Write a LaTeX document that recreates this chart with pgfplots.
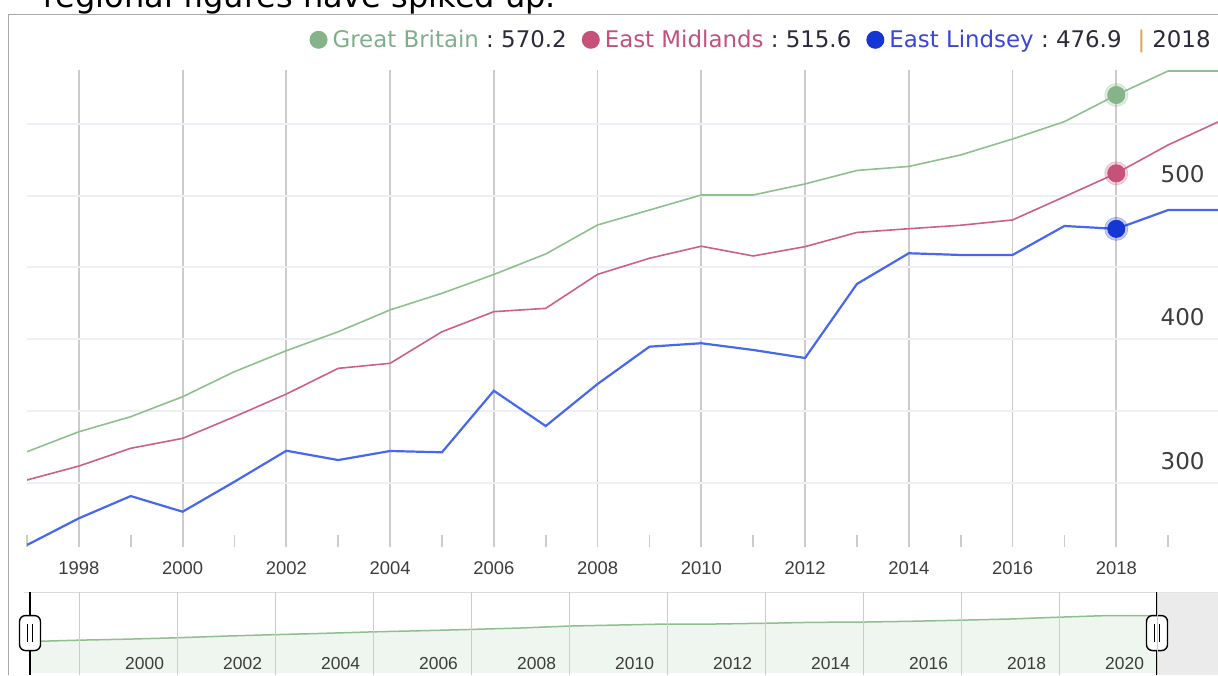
\documentclass[border=0pt]{standalone}
\usepackage{fontspec}
\setmainfont{DejaVu Sans}
\newfontfamily\arialf{Liberation Sans}
\usepackage{pgfplots}
\pgfplotsset{compat=1.18}
\definecolor{bordergray}{HTML}{A8A8A8}
\definecolor{vgrid}{HTML}{CCCCCC}
\definecolor{hgrid}{HTML}{EEEEF6}
\definecolor{gbline}{HTML}{8FBF8F}
\definecolor{gbdot}{HTML}{86B38A}
\definecolor{gbtext}{HTML}{7FAF8A}
\definecolor{emline}{HTML}{CC6088}
\definecolor{emdot}{HTML}{C65279}
\definecolor{emtext}{HTML}{C4507D}
\definecolor{elline}{HTML}{4767EE}
\definecolor{eldot}{HTML}{1636D4}
\definecolor{eltext}{HTML}{3B45D8}
\definecolor{valtext}{HTML}{2A2A3A}
\definecolor{pipecol}{HTML}{E8A33D}
\definecolor{axlab}{HTML}{3C3C3C}
\definecolor{navgrid}{HTML}{CCCCCC}
\definecolor{navfill}{HTML}{EFF5EF}
\definecolor{navshade}{HTML}{E6E6E6}
\newcommand{\ldot}[1]{\tikz[baseline={(0,-4.1pt)}]\fill[#1] (0,0) circle (4.5pt);}
\begin{document}
\begin{tikzpicture}[x=0.5pt,y=0.5pt]
% title (cut off by the screenshot)
\node[anchor=base west, inner sep=0pt, font=\fontsize{16}{16}\selectfont] at (43,667) {regional figures have spiked up.};
% chart border
\draw[color=bordergray, line width=0.8pt] (8.5,0) -- (8.5,660.5) -- (1218,660.5);
% legend
\node[anchor=base east, inner sep=0pt, font=\fontsize{11.45}{11.45}\selectfont] at (1211,627)
 {\ldot{gbdot}\hspace{2.5pt}\textcolor{gbtext}{Great Britain}\textcolor{valtext}{\ :\ 570.2}\hspace{7.5pt}%
  \ldot{emdot}\hspace{2.5pt}\textcolor{emtext}{East Midlands}\textcolor{valtext}{\ :\ 515.6}\hspace{7.5pt}%
  \ldot{eldot}\hspace{2.5pt}\textcolor{eltext}{East Lindsey}\textcolor{valtext}{\ :\ 476.9}\hspace{8pt}%
  \textcolor{pipecol}{|}\hspace{3.5pt}\textcolor{valtext}{2018}};
% main chart
\begin{axis}[
  at={(13.5pt,64pt)}, anchor=south west,
  width=596.5pt, height=238.5pt, scale only axis,
  xmin=1997, xmax=2020, ymin=255.2, ymax=587.6,
  axis line style={draw=none},
  xtick={1998,2000,...,2018},
  xticklabels={1998,2000,2002,2004,2006,2008,2010,2012,2014,2016,2018},
  minor xtick={1997,1999,...,2019},
  xtick pos=left,
  ytick={300,350,...,550},
  yticklabels={300,,400,,500,},
  ytick pos=right, yticklabel pos=right,
  major tick length=0pt, minor tick length=6pt, tick align=inside,
  tick style={color=vgrid, line width=0.9pt},
  xmajorgrids=true, ymajorgrids=true,
  major x grid style={color=vgrid, line width=0.9pt},
  major y grid style={color=hgrid, line width=1pt},
  xticklabel style={anchor=base, yshift=-13.5pt, text=axlab, font=\arialf\fontsize{9.2}{9.2}\selectfont},
  yticklabel style={anchor=east, inner sep=0pt, xshift=-7.5pt, yshift=11pt, text=axlab, font=\fontsize{11.5}{11.5}\selectfont},
]
\addplot[gbline, line width=0.8pt, mark=none] coordinates {
(1997,321.6) (1998,335.5) (1999,346.0) (2000,359.9) (2001,377.4) (2002,392.0)
(2003,405.2) (2004,420.4) (2005,432.0) (2006,445.1) (2007,459.4) (2008,479.6)
(2009,490.0) (2010,500.5) (2011,500.5) (2012,508.2) (2013,517.6) (2014,520.4)
(2015,528.4) (2016,539.5) (2017,551.6) (2018,570.2) (2019,586.9) (2020,586.9)};
\addplot[emline, line width=0.8pt, mark=none] coordinates {
(1997,301.9) (1998,311.6) (1999,324.0) (2000,330.9) (2001,346.0) (2002,361.8)
(2003,379.7) (2004,383.2) (2005,405.2) (2006,419.2) (2007,421.5) (2008,445.2)
(2009,456.4) (2010,464.8) (2011,458.0) (2012,464.5) (2013,474.4) (2014,477.0)
(2015,479.4) (2016,483.1) (2017,499.3) (2018,515.6) (2019,535.4) (2020,552.0)};
\addplot[elline, line width=1.1pt, mark=none] coordinates {
(1997,256.6) (1998,275.2) (1999,290.7) (2000,279.8) (2001,300.7) (2002,322.3)
(2003,315.8) (2004,322.1) (2005,321.2) (2006,364.1) (2007,339.5) (2008,368.8)
(2009,394.8) (2010,397.2) (2011,392.5) (2012,386.9) (2013,438.5) (2014,459.9)
(2015,458.7) (2016,458.7) (2017,478.9) (2018,476.9) (2019,490.0) (2020,490.0)};
% highlighted 2018 values (soft halo + dot)
\addplot[only marks, mark=*, gbdot, opacity=0.25, mark size=5.8pt] coordinates {(2018,570.2)};
\addplot[only marks, mark=*, gbdot, mark size=4.3pt] coordinates {(2018,570.2)};
\addplot[only marks, mark=*, emdot, opacity=0.25, mark size=5.8pt] coordinates {(2018,515.6)};
\addplot[only marks, mark=*, emdot, mark size=4.3pt] coordinates {(2018,515.6)};
\addplot[only marks, mark=*, eldot, opacity=0.25, mark size=5.8pt] coordinates {(2018,476.9)};
\addplot[only marks, mark=*, eldot, mark size=4.3pt] coordinates {(2018,476.9)};
\end{axis}
% navigator
\begin{axis}[
  at={(15pt,0pt)}, anchor=south west,
  width=594pt, height=41.5pt, scale only axis,
  xmin=1997, xmax=2021.245, ymin=-20, ymax=827,
  axis line style={draw=none},
  axis on top,
  xtick={1998,2000,...,2020},
  xticklabels={,2000,2002,2004,2006,2008,2010,2012,2014,2016,2018,2020},
  ytick=\empty,
  xtick pos=left,
  major tick length=0pt,
  xmajorgrids=true,
  major x grid style={color=navgrid, line width=0.5pt},
  xticklabel style={anchor=base east, xshift=-3pt, yshift=2.75pt, text=axlab, font=\arialf\fontsize{8.7}{8.7}\selectfont},
  clip=false,
]
\addplot[draw=none, fill=navfill, mark=none] coordinates {
(1997,321.6) (1998,335.5) (1999,346.0) (2000,359.9) (2001,377.4) (2002,392.0)
(2003,405.2) (2004,420.4) (2005,432.0) (2006,445.1) (2007,459.4) (2008,479.6)
(2009,490.0) (2010,500.5) (2011,500.5) (2012,508.2) (2013,517.6) (2014,520.4)
(2015,528.4) (2016,539.5) (2017,551.6) (2018,570.2) (2019,586.9) (2020,586.9)} \closedcycle;
\addplot[gbline, line width=0.75pt, mark=none] coordinates {
(1997,321.6) (1998,335.5) (1999,346.0) (2000,359.9) (2001,377.4) (2002,392.0)
(2003,405.2) (2004,420.4) (2005,432.0) (2006,445.1) (2007,459.4) (2008,479.6)
(2009,490.0) (2010,500.5) (2011,500.5) (2012,508.2) (2013,517.6) (2014,520.4)
(2015,528.4) (2016,539.5) (2017,551.6) (2018,570.2) (2019,586.9) (2020,586.9)};
\draw[color=navgrid!70, line width=0.5pt] (rel axis cs:-0.005,1) -- (rel axis cs:1,1);
\fill[navshade, opacity=0.8] (axis cs:2020,-20) rectangle (axis cs:2021.245,827);
\draw[black, line width=0.7pt] (axis cs:1997,-20) -- (axis cs:1997,827);
\draw[black, line width=0.7pt] (axis cs:2020,-20) -- (axis cs:2020,827);
\node[draw=black, fill=white, rounded corners=3pt, line width=0.7pt, minimum width=10.5pt, minimum height=17.5pt, inner sep=0pt] (h1) at (axis cs:1997,408) {};
\node[draw=black, fill=white, rounded corners=3pt, line width=0.7pt, minimum width=10.5pt, minimum height=17.5pt, inner sep=0pt] (h2) at (axis cs:2020,408) {};
\draw[black, line width=0.65pt] ([xshift=-1.25pt,yshift=-4.5pt]h1.center) -- ([xshift=-1.25pt,yshift=4.5pt]h1.center);
\draw[black, line width=0.65pt] ([xshift=1.25pt,yshift=-4.5pt]h1.center) -- ([xshift=1.25pt,yshift=4.5pt]h1.center);
\draw[black, line width=0.65pt] ([xshift=-1.25pt,yshift=-4.5pt]h2.center) -- ([xshift=-1.25pt,yshift=4.5pt]h2.center);
\draw[black, line width=0.65pt] ([xshift=1.25pt,yshift=-4.5pt]h2.center) -- ([xshift=1.25pt,yshift=4.5pt]h2.center);
\end{axis}
\pgfresetboundingbox
\path[use as bounding box] (0,0) rectangle (1218,675);
\end{tikzpicture}
\end{document}
